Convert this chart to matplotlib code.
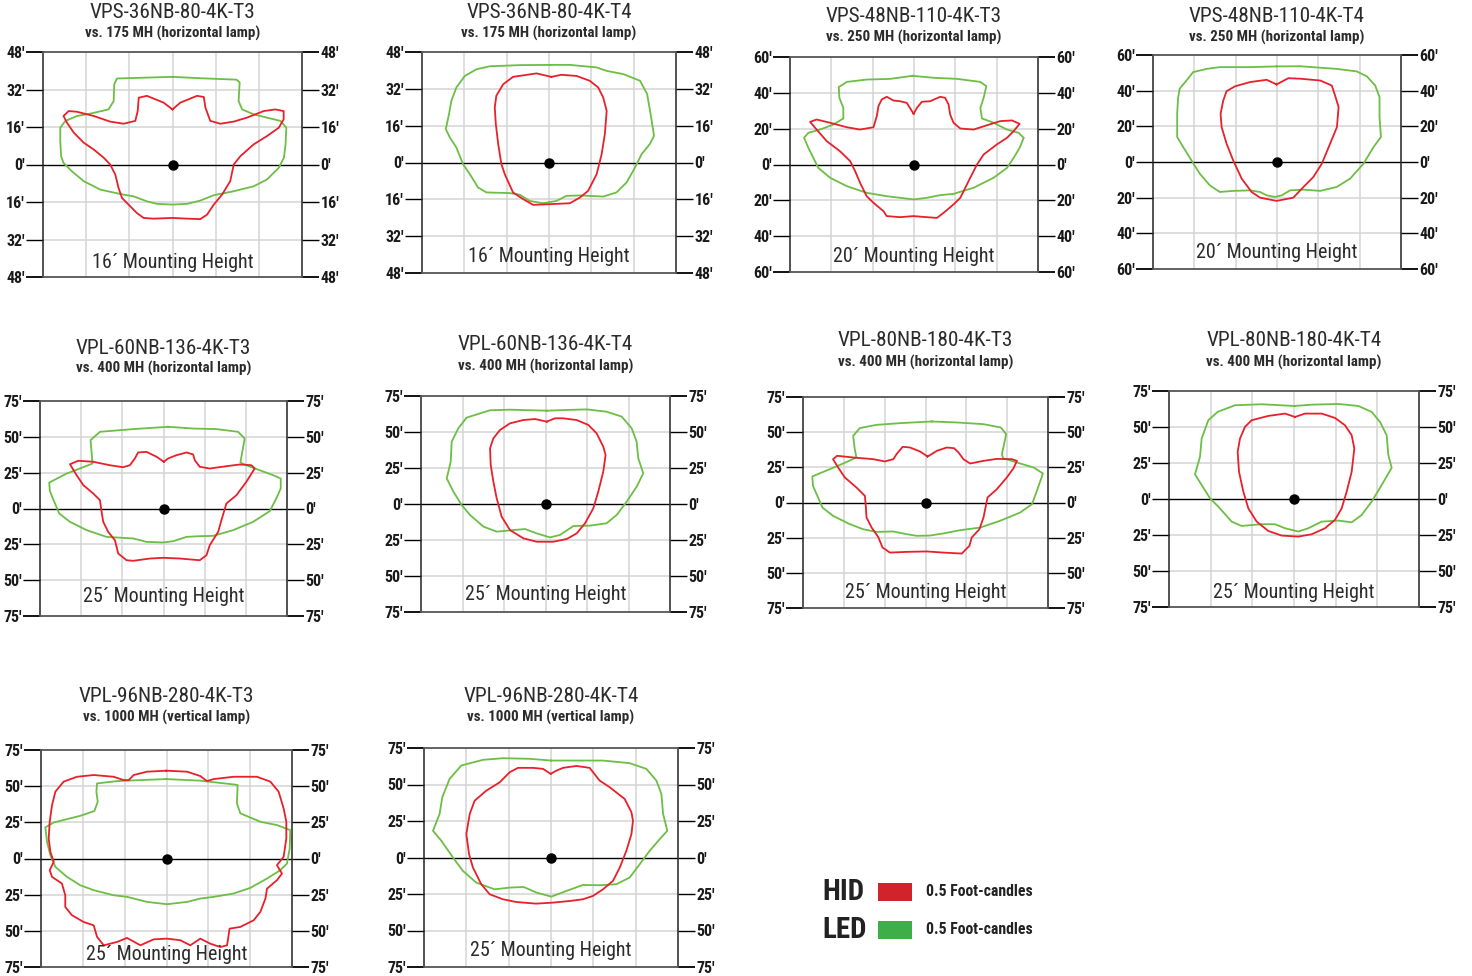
import matplotlib
matplotlib.use("Agg")
import matplotlib.pyplot as plt
from matplotlib import font_manager
from matplotlib.patches import Rectangle

W, H = 1472, 976


def pick_font(names):
    for name in names:
        try:
            font_manager.findfont(font_manager.FontProperties(family=name),
                                  fallback_to_default=False)
            return name
        except ValueError:
            continue
    return "DejaVu Sans"


NARROW = pick_font(["Liberation Sans Narrow", "DejaVu Sans Condensed",
                    "Roboto Condensed", "Open Sans Condensed"])
FAMILY = [NARROW, "DejaVu Sans"]

# ---- data (feet) ----
titles = ["VPS-36NB-80-4K-T3", "VPS-36NB-80-4K-T4", "VPS-48NB-110-4K-T3",
          "VPS-48NB-110-4K-T4", "VPL-60NB-136-4K-T3", "VPL-60NB-136-4K-T4",
          "VPL-80NB-180-4K-T3", "VPL-80NB-180-4K-T4", "VPL-96NB-280-4K-T3",
          "VPL-96NB-280-4K-T4"]
subtitles = ["vs. 175 MH (horizontal lamp)", "vs. 175 MH (horizontal lamp)",
             "vs. 250 MH (horizontal lamp)", "vs. 250 MH (horizontal lamp)",
             "vs. 400 MH (horizontal lamp)", "vs. 400 MH (horizontal lamp)",
             "vs. 400 MH (horizontal lamp)", "vs. 400 MH (horizontal lamp)",
             "vs. 1000 MH (vertical lamp)", "vs. 1000 MH (vertical lamp)"]
mount_heights = [16, 16, 20, 20, 25, 25, 25, 25, 25, 25]
axis_ranges = [48, 48, 60, 60, 75, 75, 75, 75, 75, 75]

p1_led = [(0, 37.4), (-20.6, 36.7), (-21.6, 34.2), (-21.8, 27.1), (-23.7, 23.5),
          (-30.5, 21.7), (-35.4, 20.7), (-39.7, 18.6), (-41.6, 15.7), (-41.6, 10.0),
          (-41.3, 3.6), (-40.4, 0.7), (-37.3, -2.9), (-32.9, -7.1), (-26.8, -10.7),
          (-19.3, -12.6), (-14.4, -13.6), (-9.5, -15.7), (-5.7, -16.8), (0, -17.1),
          (5.4, -16.8), (10.3, -15.4), (15.3, -13.1), (22.7, -11.4), (30.1, -9.3),
          (35.0, -6.4), (39.4, -1.4), (41.3, 2.9), (41.9, 8.6), (42.2, 15.7),
          (40.0, 18.6), (35.0, 20.0), (30.1, 21.4), (25.8, 23.5), (24.5, 27.1),
          (24.9, 35.0), (23.7, 36.2), (10.3, 36.8)]
p1_hid = [(0, 23.5), (-3.3, 26.4), (-9.5, 29.3), (-12.5, 28.5), (-12.9, 22.8),
          (-13.8, 18.6), (-18.1, 17.4), (-23.1, 18.3), (-29.2, 20.7), (-35.4, 22.5),
          (-38.5, 22.8), (-40.4, 20.7), (-39.1, 17.8), (-36.6, 13.6), (-32.9, 9.3),
          (-29.2, 6.4), (-25.5, 2.9), (-23.1, 0), (-21.2, -4.3), (-20.0, -10.0),
          (-18.7, -14.3), (-16.3, -17.1), (-13.2, -20.7), (-10.7, -22.8), (-7.0, -23.1),
          (0, -22.8), (5.4, -23.1), (10.3, -23.3), (12.8, -21.4), (15.3, -17.1),
          (18.4, -12.8), (21.4, -7.1), (22.7, 0), (25.2, 3.6), (30.1, 8.6),
          (35.0, 12.1), (39.4, 15.7), (41.2, 19.3), (41.2, 22.8), (38.1, 23.5),
          (33.8, 22.8), (27.6, 20.0), (22.7, 18.3), (17.7, 17.4), (14.0, 18.6),
          (12.2, 24.3), (11.6, 28.8), (9.1, 29.3), (2.9, 26.4)]

p2_led = [(0.3, 42.4), (-11.0, 42.3), (-22.4, 41.8), (-27.4, 40.5), (-31.8, 37.6),
          (-35.0, 32.6), (-36.9, 26.8), (-37.8, 21.0), (-39.0, 14.5), (-37.5, 10.9),
          (-35.0, 6.5), (-32.5, -0.7), (-29.9, -5.1), (-26.8, -10.9), (-23.6, -13.0),
          (-14.8, -13.3), (-11.0, -14.0), (-7.3, -16.7), (-2.2, -17.7), (2.8, -16.7),
          (6.6, -14.5), (11.7, -14.3), (20.5, -14.8), (25.5, -13.0), (29.3, -8.7),
          (32.5, -2.2), (35.0, 3.6), (38.1, 8.0), (39.7, 11.6), (38.4, 21.0),
          (37.1, 29.7), (34.4, 35.5), (28.1, 38.4), (21.8, 39.8), (18.0, 41.3),
          (7.9, 42.4)]
p2_hid = [(0.9, 37.2), (-4.7, 38.7), (-13.6, 37.2), (-17.3, 34.0), (-19.9, 29.0),
          (-20.5, 23.9), (-20.1, 16.7), (-19.2, 8.0), (-18.0, -0.7), (-16.7, -5.1),
          (-13.6, -13.0), (-9.8, -15.9), (-6.0, -18.4), (0.3, -18.1), (7.9, -17.7),
          (11.7, -15.2), (14.8, -12.3), (18.0, -5.1), (19.9, 3.6), (21.1, 12.3),
          (21.8, 22.4), (20.5, 28.2), (18.6, 32.6), (15.4, 35.5), (10.4, 37.6),
          (4.7, 38.1)]

p3_led = [(-0.7, 49.5), (-11.5, 47.8), (-22.9, 47.4), (-32.5, 46.1), (-36.4, 43.2),
          (-36.1, 37.2), (-34.2, 31.6), (-34.2, 25.7), (-39.0, 22.3), (-45.5, 19.5),
          (-51.1, 17.7), (-53.2, 14.9), (-51.1, 9.3), (-48.7, 3.7), (-46.3, -1.9),
          (-40.6, -7.4), (-32.5, -12.1), (-22.9, -15.8), (-13.2, -17.7), (-6.7, -18.6),
          (-0.2, -19.5), (6.2, -18.6), (12.7, -17.1), (19.1, -16.4), (28.8, -13.0),
          (38.5, -7.4), (45.0, -1.9), (48.2, 3.7), (51.1, 9.3), (53.1, 14.9),
          (50.6, 17.7), (45.0, 19.5), (38.5, 23.3), (32.9, 25.7), (32.1, 31.6),
          (33.7, 37.2), (35.0, 43.7), (32.1, 46.1), (20.8, 47.8), (9.4, 48.4)]
p3_hid = [(-0.2, 28.3), (-3.5, 34.4), (-6.7, 35.3), (-9.9, 35.7), (-13.2, 37.8),
          (-15.6, 36.3), (-17.2, 32.6), (-18.0, 27.0), (-19.6, 20.8), (-26.1, 19.5),
          (-32.5, 20.8), (-40.6, 23.3), (-47.1, 25.1), (-50.3, 23.8), (-47.1, 19.5),
          (-42.2, 13.0), (-35.8, 7.4), (-30.9, 1.9), (-28.5, -3.7), (-26.1, -10.2),
          (-22.9, -17.7), (-19.6, -21.4), (-14.8, -26.0), (-13.2, -28.8), (-6.7, -29.4),
          (-0.2, -28.8), (6.2, -29.4), (11.1, -29.8), (14.3, -27.0), (19.1, -22.3),
          (22.4, -18.6), (24.0, -14.9), (27.2, -7.4), (30.5, 0), (33.7, 5.6),
          (40.1, 11.2), (45.0, 14.9), (48.2, 18.6), (51.1, 22.7), (47.4, 24.6),
          (41.7, 24.2), (35.3, 21.9), (28.8, 19.5), (22.4, 20.1), (19.1, 23.3),
          (17.5, 27.9), (16.7, 33.5), (15.1, 37.2), (12.7, 37.8), (7.8, 35.3),
          (3.8, 35.0), (1.4, 31.6)]

p4_led = [(-0.2, 53.6), (-13.1, 53.2), (-27.7, 53.2), (-34.1, 52.2), (-40.6, 50.4),
          (-43.8, 45.7), (-47.1, 41.1), (-47.9, 35.5), (-48.3, 27.1), (-48.3, 14.0),
          (-45.4, 8.4), (-41.4, 0.9), (-37.4, -6.5), (-32.5, -13.1), (-27.7, -16.8),
          (-21.2, -16.2), (-13.1, -15.9), (-8.2, -16.8), (-5.0, -18.7), (-1.0, -19.6),
          (2.3, -18.7), (6.3, -15.9), (12.8, -15.5), (20.9, -16.2), (28.9, -14.0),
          (35.4, -9.3), (41.9, -0.9), (46.7, 8.4), (50.3, 14.0), (49.6, 25.2),
          (49.6, 36.4), (47.5, 42.9), (43.5, 48.0), (38.6, 50.8), (28.9, 52.2),
          (11.2, 53.7)]
p4_hid = [(-0.2, 43.5), (-5.0, 46.1), (-13.1, 44.8), (-20.4, 42.4), (-24.4, 39.7),
          (-26.0, 34.5), (-27.3, 27.1), (-26.8, 19.6), (-24.4, 10.3), (-21.2, 0.9),
          (-17.1, -9.3), (-12.3, -16.8), (-8.2, -20.0), (-0.2, -21.8), (7.9, -20.0),
          (12.8, -14.0), (17.6, -8.4), (21.7, -0.9), (25.7, 10.3), (29.0, 19.6),
          (29.8, 30.8), (28.1, 37.3), (26.5, 42.9), (20.9, 45.7), (11.2, 46.7),
          (5.5, 47.0)]

p5_led = [(2.8, 57.0), (-18.4, 55.4), (-38.6, 53.5), (-44.3, 47.7), (-43.1, 31.4),
          (-50.8, 27.9), (-58.8, 24.4), (-69.4, 18.1), (-69.0, 12.1), (-65.9, 3.5),
          (-63.3, -3.5), (-56.8, -9.3), (-46.7, -15.1), (-34.6, -19.8), (-24.5, -20.5),
          (-18.4, -20.9), (-10.3, -23.3), (-0.2, -23.7), (5.9, -22.8), (14.0, -19.8),
          (22.0, -19.3), (30.1, -19.1), (42.3, -15.1), (54.4, -9.3), (64.5, -1.9),
          (68.5, 7.0), (71.2, 14.0), (71.2, 20.9), (66.5, 23.3), (58.4, 26.7),
          (50.3, 30.2), (46.7, 32.1), (49.3, 48.8), (45.3, 53.5), (32.1, 55.4),
          (18.0, 55.8)]
p5_hid = [(0.2, 32.6), (-4.2, 36.1), (-10.3, 39.5), (-15.4, 39.1), (-17.4, 34.9),
          (-20.4, 30.2), (-24.5, 28.8), (-32.6, 30.2), (-42.7, 32.6), (-51.8, 33.3),
          (-56.8, 30.9), (-52.8, 23.3), (-48.7, 16.3), (-42.7, 10.5), (-38.6, 5.8),
          (-37.6, -2.3), (-36.6, -9.3), (-33.6, -16.3), (-29.5, -22.1), (-27.5, -31.4),
          (-22.4, -36.1), (-18.4, -36.5), (-8.3, -34.9), (-0.2, -34.4), (9.9, -34.9),
          (22.0, -36.1), (26.1, -32.6), (28.1, -25.6), (33.2, -16.3), (35.2, -8.1),
          (38.2, 3.5), (44.3, 9.3), (50.3, 18.6), (55.4, 27.9), (53.4, 30.2),
          (46.3, 30.7), (38.2, 29.5), (28.1, 27.9), (22.0, 29.1), (19.0, 33.7),
          (18.0, 37.7), (14.0, 39.1), (7.9, 37.2), (2.8, 34.9)]

p6_led = [(0.7, 64.8), (-21.4, 65.5), (-33.4, 65.1), (-47.5, 60.0), (-52.5, 52.6),
          (-56.5, 43.3), (-57.1, 29.4), (-59.5, 17.8), (-55.5, 8.6), (-50.5, -0.7),
          (-45.5, -7.6), (-37.4, -15.7), (-29.4, -19.2), (-19.4, -18.1), (-12.3, -17.4),
          (-5.3, -20.4), (2.7, -23.2), (8.7, -21.5), (16.8, -15.3), (26.8, -15.0),
          (36.8, -13.4), (42.9, -7.6), (48.9, 1.6), (54.9, 12.0), (58.9, 21.3),
          (55.9, 31.7), (54.9, 43.3), (51.9, 52.6), (45.9, 60.7), (36.8, 64.1),
          (24.8, 65.7), (12.7, 65.3)]
p6_hid = [(0.7, 57.2), (-6.3, 59.0), (-13.4, 58.3), (-21.4, 56.0), (-27.4, 51.4),
          (-31.4, 45.6), (-33.4, 38.7), (-33.0, 27.1), (-31.4, 15.5), (-29.4, 3.9),
          (-26.4, -8.8), (-21.4, -18.1), (-13.4, -23.8), (-5.3, -26.2), (4.7, -26.2),
          (12.8, -24.3), (18.8, -20.4), (23.8, -13.4), (28.8, -3.0), (31.8, 8.6),
          (34.8, 22.5), (36.2, 34.0), (34.8, 39.8), (30.8, 49.1), (25.8, 54.9),
          (18.8, 58.3), (10.7, 59.5), (5.7, 59.5)]

p7_led = [(3.8, 57.6), (-15.7, 56.4), (-30.0, 55.2), (-40.2, 52.9), (-44.3, 47.4),
          (-43.3, 37.9), (-42.3, 32.0), (-50.4, 27.7), (-58.6, 23.7), (-69.3, 18.5),
          (-68.9, 11.9), (-65.8, 3.6), (-63.1, -3.6), (-56.6, -9.5), (-46.3, -15.4),
          (-38.2, -19.0), (-30.0, -20.9), (-19.7, -20.6), (-11.6, -22.5), (-5.4, -23.7),
          (2.8, -23.5), (10.9, -22.0), (21.2, -19.7), (33.5, -17.8), (45.7, -13.0),
          (58.0, -7.1), (65.2, -1.2), (68.2, 8.3), (71.9, 20.6), (66.2, 24.9),
          (56.0, 28.4), (47.4, 31.5), (46.8, 34.4), (49.4, 48.6), (46.1, 53.3),
          (35.5, 55.7), (19.1, 56.9)]
p7_hid = [(1.3, 32.7), (-3.4, 36.3), (-9.5, 39.1), (-14.0, 39.6), (-17.7, 34.4),
          (-19.7, 30.8), (-24.9, 29.2), (-32.0, 30.8), (-44.3, 32.0), (-54.1, 33.2),
          (-56.6, 30.8), (-53.5, 24.9), (-49.4, 17.8), (-42.3, 10.7), (-37.1, 4.7),
          (-36.5, -3.6), (-36.1, -10.7), (-33.0, -17.8), (-29.0, -24.4), (-26.3, -32.0),
          (-21.8, -35.6), (-11.6, -35.1), (0.7, -34.8), (10.9, -35.6), (22.2, -36.3),
          (26.9, -30.8), (28.3, -24.9), (33.0, -19.0), (35.5, -10.7), (38.0, 3.6),
          (43.7, 9.5), (49.8, 17.8), (53.9, 24.4), (56.0, 29.6), (52.9, 30.8),
          (43.7, 31.0), (35.5, 29.6), (27.3, 27.7), (23.2, 30.8), (20.2, 35.6),
          (17.5, 38.6), (13.0, 39.1), (6.9, 36.7), (3.8, 34.4)]

p8_led = [(0.2, 64.6), (-19.4, 65.8), (-35.4, 65.1), (-45.8, 60.5), (-51.4, 54.7),
          (-55.4, 42.0), (-56.4, 29.3), (-59.4, 17.1), (-55.4, 9.7), (-50.4, 0.5),
          (-45.4, -5.3), (-37.4, -15.7), (-31.4, -18.7), (-19.4, -17.5), (-11.4, -17.5),
          (-5.4, -20.3), (2.6, -22.6), (8.6, -20.3), (16.6, -15.7), (26.6, -15.0),
          (34.6, -16.2), (40.6, -11.1), (46.6, -1.8), (52.6, 9.7), (58.6, 21.7),
          (56.6, 30.5), (55.6, 44.3), (51.6, 53.5), (46.6, 60.5), (38.6, 64.6),
          (26.6, 66.0), (10.6, 65.5)]
p8_hid = [(0.6, 57.0), (-5.4, 59.3), (-15.4, 57.7), (-25.4, 54.7), (-29.4, 50.1),
          (-32.4, 42.0), (-33.8, 32.8), (-33.0, 18.9), (-30.4, 5.1), (-27.4, -6.5),
          (-22.4, -15.7), (-15.4, -22.2), (-7.4, -25.4), (2.6, -26.1), (10.6, -24.5),
          (18.6, -20.3), (24.6, -14.5), (28.6, -6.5), (31.6, 5.1), (34.6, 18.9),
          (36.2, 35.1), (34.6, 44.3), (30.6, 51.2), (24.6, 56.3), (16.6, 59.3),
          (6.6, 59.3)]

p9_led = [(-0.1, 54.9), (-15.6, 54.2), (-29.6, 53.5), (-41.5, 51.9), (-41.9, 46.2),
          (-41.1, 39.2), (-43.1, 32.8), (-51.5, 29.5), (-59.5, 27.2), (-67.4, 24.9),
          (-72.4, 21.5), (-71.4, 11.5), (-69.4, 2.3), (-66.4, -5.8), (-59.5, -12.7),
          (-51.5, -18.5), (-43.5, -21.9), (-31.6, -25.4), (-23.6, -26.5), (-11.7, -30.0),
          (0.3, -31.6), (12.3, -30.0), (20.2, -27.7), (28.2, -26.5), (40.1, -24.2),
          (50.1, -20.3), (60.1, -13.8), (68.0, -8.1), (72.0, -3.5), (73.6, 6.9),
          (74.0, 19.6), (66.0, 23.1), (56.1, 25.4), (44.1, 31.2), (42.1, 38.1),
          (42.5, 50.8), (40.1, 51.2), (20.2, 53.8)]
p9_hid = [(-0.1, 60.7), (-11.7, 60.0), (-19.6, 57.7), (-22.6, 54.2), (-25.6, 54.2),
          (-31.6, 56.5), (-43.5, 57.7), (-53.5, 56.5), (-61.5, 53.1), (-66.4, 46.2),
          (-68.4, 36.9), (-69.8, 25.4), (-70.4, 13.8), (-69.4, 4.6), (-67.4, -2.3),
          (-69.8, -8.1), (-68.4, -12.7), (-62.5, -17.3), (-60.5, -25.4), (-60.5, -33.5),
          (-56.5, -39.2), (-49.5, -43.9), (-43.5, -46.2), (-41.5, -54.2), (-37.5, -60.0),
          (-29.6, -57.7), (-23.6, -54.9), (-15.6, -60.0), (-7.7, -55.9), (0.3, -55.4),
          (8.3, -56.5), (14.2, -60.0), (20.2, -55.4), (26.2, -58.9), (32.2, -61.2),
          (36.2, -60.0), (37.7, -48.5), (44.1, -47.3), (52.1, -42.7), (56.1, -36.9),
          (59.1, -27.7), (60.1, -20.8), (66.0, -15.0), (69.0, -10.4), (66.0, -4.6),
          (70.0, 1.2), (71.6, 13.8), (71.6, 25.4), (70.0, 34.6), (67.0, 46.2),
          (62.1, 53.1), (54.1, 56.5), (40.1, 56.5), (28.2, 54.9), (24.2, 53.5),
          (20.2, 57.0), (12.3, 60.0)]

p10_led = [(0.2, 66.4), (-12.6, 67.6), (-28.4, 68.0), (-40.2, 66.9), (-53.0, 63.0),
           (-59.9, 53.8), (-64.2, 41.2), (-65.8, 29.8), (-69.7, 18.3), (-64.8, 11.5),
           (-57.9, 0), (-52.0, -9.2), (-44.1, -17.2), (-33.3, -21.8), (-24.4, -20.6),
           (-16.1, -20.2), (-8.7, -24.0), (0.2, -26.8), (9.1, -22.9), (18.9, -18.8),
           (28.7, -19.0), (38.6, -18.3), (46.5, -13.7), (52.4, -4.6), (58.3, 4.6),
           (64.2, 12.6), (68.7, 18.3), (66.2, 29.8), (65.2, 43.5), (62.2, 52.7),
           (56.3, 60.7), (46.5, 64.6), (30.7, 66.4), (15.0, 66.4)]
p10_hid = [(-0.2, 57.3), (-4.7, 60.7), (-10.6, 61.4), (-19.5, 61.4), (-24.4, 58.4),
           (-30.3, 51.5), (-38.2, 45.8), (-45.1, 38.9), (-48.0, 29.8), (-50.0, 16.0),
           (-48.4, 2.3), (-46.1, -6.9), (-41.2, -18.3), (-36.2, -25.2), (-28.4, -28.6),
           (-20.5, -30.5), (-8.7, -31.6), (1.2, -30.9), (11.0, -29.8), (18.9, -28.6),
           (24.8, -26.3), (30.7, -21.8), (36.6, -16.0), (40.6, -6.9), (44.5, 4.6),
           (47.5, 16.0), (48.4, 25.2), (47.5, 31.0), (43.5, 40.1), (34.7, 48.1),
           (28.7, 52.7), (22.8, 61.4), (15.0, 62.7), (7.1, 61.4), (3.2, 59.5)]

led_curves = [p1_led, p2_led, p3_led, p4_led, p5_led, p6_led, p7_led, p8_led, p9_led, p10_led]
hid_curves = [p1_hid, p2_hid, p3_hid, p4_hid, p5_hid, p6_hid, p7_hid, p8_hid, p9_hid, p10_hid]

# ---- layout: plot boxes in pixels (left, top, right, bottom) ----
boxes = [(43, 52, 302, 277), (422, 52, 676, 273), (790, 57, 1038, 272),
         (1153, 55, 1401, 269), (40, 401, 287, 616), (421, 396, 670, 612),
         (803, 397, 1048, 608), (1169, 391, 1419, 607), (41, 750, 292, 967),
         (424, 748, 678, 967)]
title_y = [12.5, 12.5, 16.5, 16.5, 348, 344, 341, 341, 697, 697]
subtitle_y = [33, 33, 37, 37, 368, 366, 362, 362, 717, 717]
mount_y = [263, 257, 256, 252, 596, 595, 593, 593, 954, 951]

RED = "#E8202A"
GREEN = "#6CBE45"
GRID = "#D4D4D4"
TEXT = "#2B2B2B"
TICK_LEN = 12.2  # points, about 17 px


def fx(px):
    return px / W


def fy(py):
    return 1 - py / H


def closed(pts):
    xs = [p[0] for p in pts] + [pts[0][0]]
    ys = [p[1] for p in pts] + [pts[0][1]]
    return xs, ys


fig = plt.figure(figsize=(W / 100, H / 100), dpi=100)

for i in range(len(titles)):
    left, top, right, bottom = boxes[i]
    ax = fig.add_axes([fx(left), fy(bottom), (right - left) / W, (bottom - top) / H])
    rng = axis_ranges[i]
    step = rng / 3
    ax.set_xlim(-rng, rng)
    ax.set_ylim(-rng, rng)

    ticks = [-rng, -2 * step, -step, 0, step, 2 * step, rng]
    for t in ticks[1:-1]:
        ax.axvline(t, color=GRID, lw=1.1, zorder=1)
        if t != 0:
            ax.axhline(t, color=GRID, lw=1.1, zorder=1)
    ax.axhline(0, color="black", lw=1.0, zorder=2)

    ax.set_xticks([])
    ax.set_yticks(ticks)
    ax.set_yticklabels([f"{abs(int(round(t)))}\u2032" for t in ticks])
    ax.tick_params(axis="y", left=True, right=True, labelleft=True, labelright=True,
                   direction="out", length=TICK_LEN, width=1.0, color="black",
                   pad=1.0, labelsize=11.5, labelcolor="#1a1a1a")
    for lab in ax.get_yticklabels():
        lab.set_fontweight("bold")
        lab.set_family(FAMILY)
    majors = ax.yaxis.get_major_ticks()
    for tk in (majors[0], majors[-1]):
        tk.tick1line.set_color("#555555")
        tk.tick2line.set_color("#555555")
        tk.tick1line.set_markeredgewidth(1.3)
        tk.tick2line.set_markeredgewidth(1.3)

    for side in ("left", "right"):
        ax.spines[side].set_color("#222222")
        ax.spines[side].set_linewidth(1.1)
    for side in ("top", "bottom"):
        ax.spines[side].set_color("#555555")
        ax.spines[side].set_linewidth(1.3)

    gx, gy = closed(led_curves[i])
    ax.plot(gx, gy, color=GREEN, lw=1.3, zorder=3, solid_joinstyle="round")
    rx, ry = closed(hid_curves[i])
    ax.plot(rx, ry, color=RED, lw=1.3, zorder=4, solid_joinstyle="round")
    ax.plot([0], [0], "o", color="black", ms=6.5, zorder=5)

    cx = (left + right) / 2
    fig.text(fx(cx), fy(title_y[i]), titles[i], ha="center", va="center",
             fontsize=15.3, color=TEXT, family=FAMILY)
    fig.text(fx(cx), fy(subtitle_y[i]), subtitles[i], ha="center", va="center",
             fontsize=10.8, fontweight="bold", color=TEXT, family=FAMILY)
    fig.text(fx(cx), fy(mount_y[i]), f"{mount_heights[i]}\u00b4 Mounting Height",
             ha="center", va="center", fontsize=14.4, color=TEXT, family=FAMILY)

# ---- legend ----
legend_rows = [("HID", "#D2232A", 892), ("LED", "#3FAE49", 930)]
for label, col, yc in legend_rows:
    fig.text(fx(822), fy(yc), label, ha="left", va="center", fontsize=21,
             fontweight="bold", color="#222222", family=FAMILY)
    fig.patches.append(Rectangle((fx(878), fy(yc + 9)), 34 / W, 18 / H,
                                 transform=fig.transFigure, facecolor=col,
                                 edgecolor="none"))
    fig.text(fx(926), fy(yc), "0.5 Foot-candles", ha="left", va="center",
             fontsize=11.3, fontweight="bold", color="#222222", family=FAMILY)

fig.savefig("out.png", dpi=100, facecolor="white")
